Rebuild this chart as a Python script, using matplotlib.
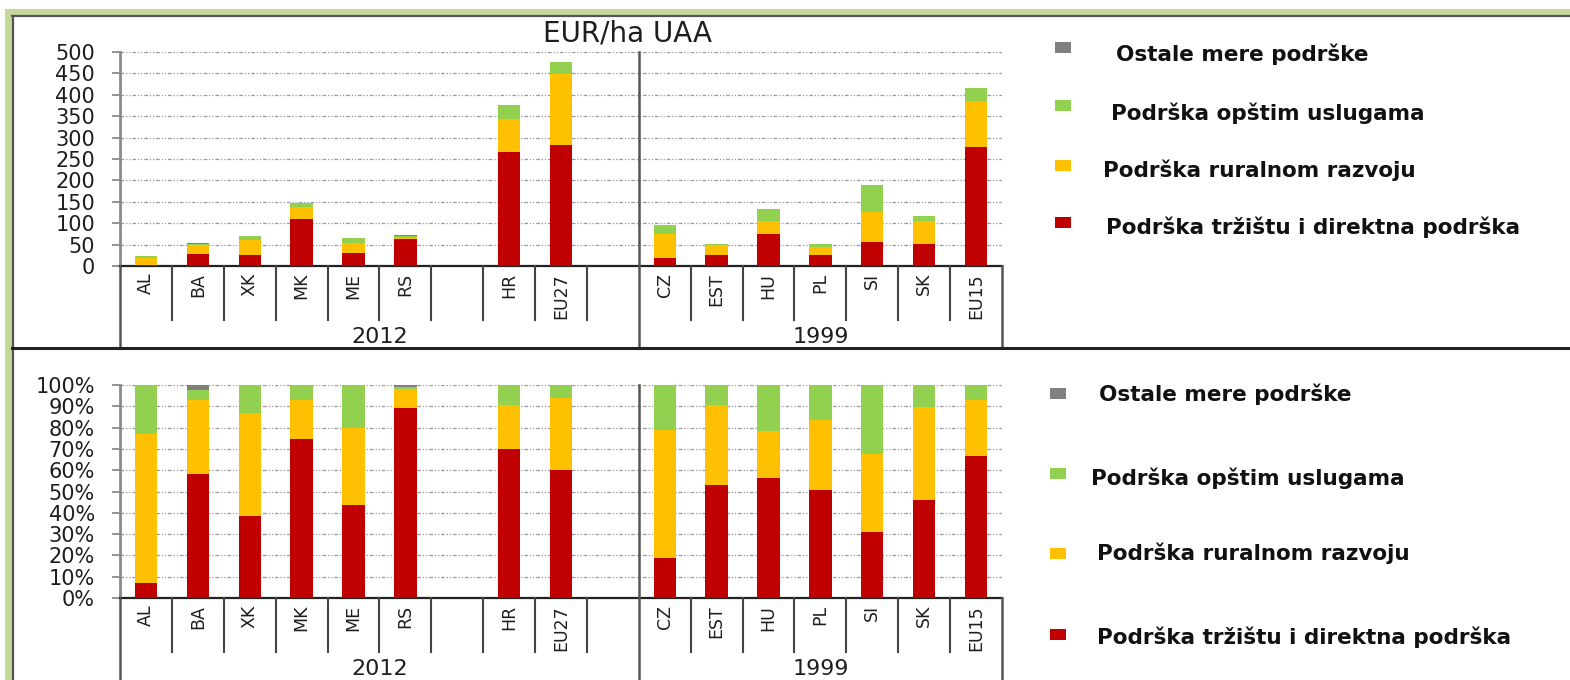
import matplotlib.pyplot as plt
import matplotlib.transforms as mtransforms
from matplotlib.patches import Rectangle
from matplotlib.lines import Line2D
from matplotlib.ticker import FuncFormatter
import numpy as np

labels = ['AL', 'BA', 'XK', 'MK', 'ME', 'RS', '', 'HR', 'EU27', '',
          'CZ', 'EST', 'HU', 'PL', 'SI', 'SK', 'EU15']
groups = ['2012', '1999']
group_sizes = [10, 7]

series_names = ['Podrška tržištu i direktna podrška', 'Podrška ruralnom razvoju',
                'Podrška opštim uslugama', 'Ostale mere podrške']
colors = ['#c00000', '#ffc000', '#92d050', '#808080']

# EUR/ha UAA
market_eur = [1.5, 27, 26.5, 109, 31, 62, 0, 266, 283, 0, 19.5, 26.5, 74, 26.5, 55.5, 52, 279]
rural_eur = [17.5, 21, 34.5, 29, 22, 4.5, 0, 77, 166, 0, 55, 22, 30.5, 18, 69.5, 52.5, 107]
general_eur = [3.5, 3, 10, 10, 12.5, 2.5, 0, 34, 27, 0, 21, 4, 29, 7, 64, 11.5, 30]
other_eur = [0, 2.5, 0, 0, 0, 4.5, 0, 0, 0, 0, 0, 0, 0, 0, 0, 0, 0]

# shares, %
market_pct = [7, 58, 38.5, 74.5, 43.5, 89, 0, 70, 60, 0, 19, 53, 56.5, 50.5, 31, 46, 66.5]
rural_pct = [70, 35, 48.5, 18.5, 36.5, 9, 0, 20.5, 34, 0, 60, 37.5, 22, 33, 36.5, 43.5, 26.5]
general_pct = [23, 4.5, 13, 7, 20, 1, 0, 9.5, 6, 0, 21, 9.5, 21.5, 16.5, 32.5, 10.5, 7]
other_pct = [0, 2.5, 0, 0, 0, 1, 0, 0, 0, 0, 0, 0, 0, 0, 0, 0, 0]

W, H = 1570, 680
fig = plt.figure(figsize=(W / 100, H / 100), dpi=100)
fig.patch.set_facecolor('white')


def fx(x):
    return x / W


def fy(y):
    return 1 - y / H


txt_color = '#1e1e1e'
font = 'DejaVu Sans'

# frame: green border and dark lines
fig.add_artist(Rectangle((fx(5), 0), fx(7), fy(9), transform=fig.transFigure,
                         color='#c4d79b', lw=0))
fig.add_artist(Rectangle((fx(5), fy(15)), 1, 6 / H, transform=fig.transFigure,
                         color='#c4d79b', lw=0))
fig.add_artist(Line2D([fx(13), fx(13)], [0, fy(16)], transform=fig.transFigure,
                      color='#555555', lw=1.6))
fig.add_artist(Line2D([fx(12), 1], [fy(16), fy(16)], transform=fig.transFigure,
                      color='#555555', lw=1.6))
fig.add_artist(Line2D([fx(12), 1], [fy(348), fy(348)], transform=fig.transFigure,
                      color='#222222', lw=2.2))


def panel(ax_top, ax_bottom, box_bottom, series, ymax, step, fmt, group_y):
    ax = fig.add_axes([fx(120), fy(ax_bottom), fx(1002) - fx(120), (ax_bottom - ax_top) / H])
    x = np.arange(len(labels))
    base = np.zeros(len(labels))
    for vals, c in zip(series, colors):
        ax.bar(x, vals, width=0.43, bottom=base, color=c, linewidth=0, zorder=3)
        base += np.array(vals)
    ax.set_xlim(-0.5, len(labels) - 0.5)
    ax.set_ylim(0, ymax)
    ax.set_yticks(np.arange(0, ymax + step / 2, step))
    ax.yaxis.set_major_formatter(fmt)
    ax.grid(axis='y', color='#999999', lw=0.9, ls=(0, (3, 1.5, 1, 1.5, 1, 1.5)), zorder=0)
    ax.set_xticks(x)
    ax.set_xticklabels(labels, rotation=90, fontsize=12.5, family=font, color=txt_color)
    ax.tick_params(axis='x', length=0, pad=5)
    ax.tick_params(axis='y', length=6, width=1.3, color='#8a8a8a', labelsize=15,
                   pad=12, labelcolor=txt_color)
    for lab in ax.get_yticklabels():
        lab.set_family(font)
    ax.spines['top'].set_visible(False)
    ax.spines['right'].set_visible(False)
    ax.spines['left'].set_color('#8a8a8a')
    ax.spines['left'].set_linewidth(2)
    ax.spines['bottom'].set_color('#222222')
    ax.spines['bottom'].set_linewidth(1.6)

    # category table below the axis
    h = ax_bottom - ax_top
    tr = mtransforms.blended_transform_factory(ax.transData, ax.transAxes)
    short = -54 / h
    full = -(box_bottom - ax_bottom) / h
    edges = np.arange(-0.5, len(labels))
    group_edges = np.cumsum([0] + group_sizes) - 0.5
    for b in edges:
        if b in group_edges:
            top = 1 if 0 < b < len(labels) - 0.5 else 0
            ax.plot([b, b], [top, full], transform=tr, clip_on=False,
                    color='#555555', lw=1.8, zorder=4)
        else:
            ax.plot([b, b], [0, short], transform=tr, clip_on=False,
                    color='#444444', lw=1.5, zorder=4)
    for g, a, n in zip(groups, group_edges[:-1], group_sizes):
        ax.text(a + n / 2, -(group_y - ax_bottom) / h, g, transform=tr, ha='center',
                va='center', fontsize=16, family=font, color=txt_color)
    return ax


ax1 = panel(52, 266, 347,
            [market_eur, rural_eur, general_eur, other_eur],
            500, 50, FuncFormatter(lambda v, p: f'{v:.0f}'), 337)
ax1.text(0.575, 1.0 + 19 / 214, 'EUR/ha UAA', transform=ax1.transAxes, ha='center',
         va='center', fontsize=20, family=font, color=txt_color)

ax2 = panel(385, 598, 690,
            [market_pct, rural_pct, general_pct, other_pct],
            100, 10, FuncFormatter(lambda v, p: f'{v:.0f}%'), 669)

# legends
legend_top = [(47, 54, 1116), (105, 113, 1111), (165, 170, 1103), (222, 227, 1106)]
legend_bottom = [(393, 394, 1099), (473, 478, 1091), (553, 553, 1097), (634, 637, 1097)]
legend_order = [3, 2, 1, 0]
for rows, sq_x in [(legend_top, 1055), (legend_bottom, 1050)]:
    for (sq_y, t_y, t_x), i in zip(rows, legend_order):
        fig.add_artist(Rectangle((fx(sq_x), fy(sq_y + 6)), 16 / W, 11 / H,
                                 transform=fig.transFigure, color=colors[i], lw=0))
        fig.text(fx(t_x), fy(t_y), series_names[i], ha='left', va='center',
                 fontsize=15.5, fontweight='bold', family=font, color='#111111')

fig.savefig('out.png', dpi=100)
